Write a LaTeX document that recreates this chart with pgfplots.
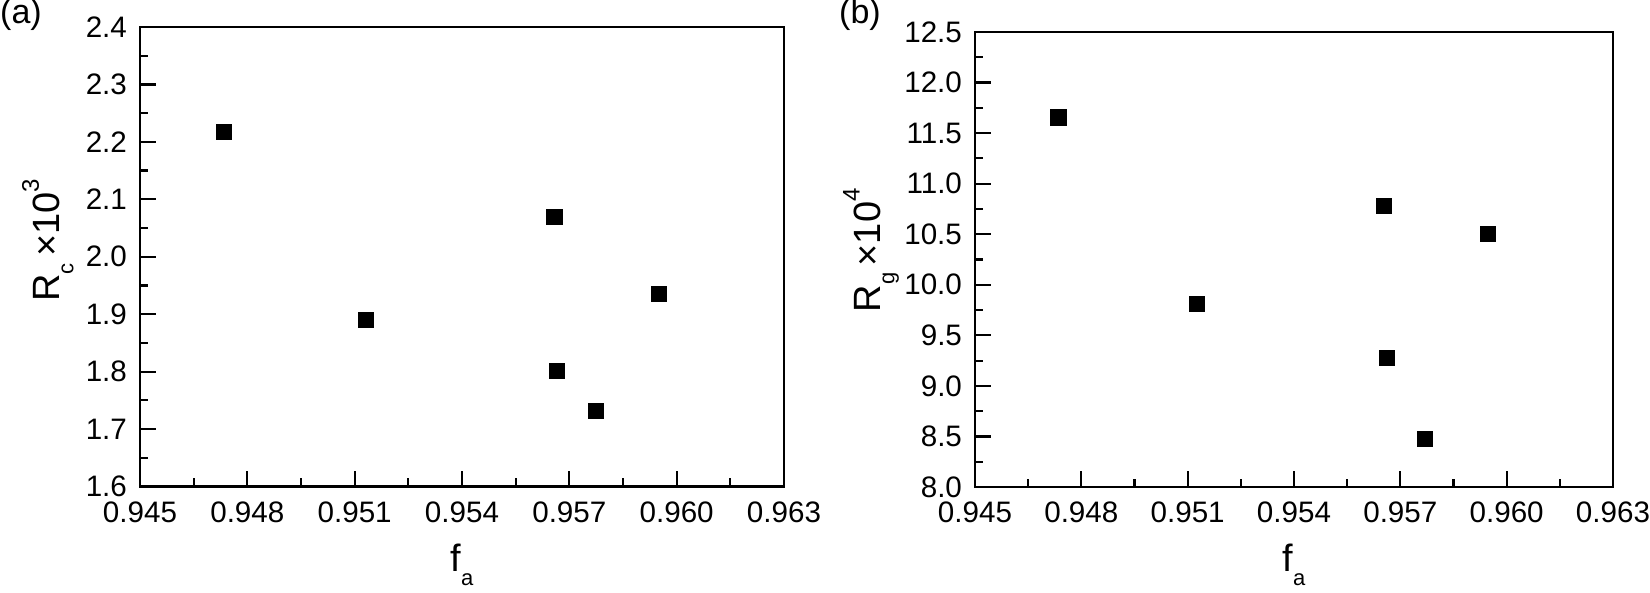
\documentclass[border=0pt]{standalone}
\usepackage{fontspec}
\setmainfont{Liberation Sans}
\usepackage{pgfplots}
\pgfplotsset{compat=1.18}

% subscript / superscript helpers for the axis labels
\newcommand\sub[1]{\raisebox{-0.36em}{\fontsize{11}{11}\selectfont #1}}
\newcommand\sups[1]{\raisebox{0.55em}{\fontsize{12}{12}\selectfont #1}}

\pgfplotsset{
  panel/.style={
    scale only axis,
    axis line style={line width=1.1pt},
    every tick/.style={line width=1.1pt, black},
    tick pos=left, tick align=inside,
    major tick length=7.8pt, minor tick length=4pt,
    minor x tick num=1, minor y tick num=1,
    scaled ticks=false,
    /pgf/number format/assume math mode=true,
    tick label style={font=\fontsize{14.8}{17}\selectfont},
    label style={font=\fontsize{19}{22}\selectfont},
    xmin=0.945, xmax=0.963,
    xtick={0.945,0.948,0.951,0.954,0.957,0.960,0.963},
    xticklabel style={yshift=-4pt, /pgf/number format/.cd, fixed, fixed zerofill, precision=3},
    yticklabel style={xshift=-3pt, /pgf/number format/.cd, fixed, fixed zerofill, precision=1},
    xlabel={f\sub{a}},
    xlabel style={at={(axis description cs:0.5,-0.186)}, anchor=base},
  },
  pts/.style={only marks, mark=square*, mark size=3.8pt,
    mark options={fill=black, draw=none}},
}

\begin{document}
\begin{tikzpicture}
\useasboundingbox (0,0) rectangle (825pt,296.5pt);

\begin{axis}[panel,
  at={(70pt,53.25pt)}, anchor=south west,
  width=322pt, height=229.75pt,
  ymin=1.6, ymax=2.4,
  ytick={1.6,1.7,1.8,1.9,2.0,2.1,2.2,2.3,2.4},
  ylabel={R\sub{c}\,×10\sups{3}},
  ylabel style={at={(axis description cs:-0.143,0.536)}, anchor=center},
]
\addplot[pts] coordinates {
(0.94735, 2.217)
(0.95132, 1.890)
(0.95658, 2.069)
(0.95666, 1.801)
(0.95774, 1.731)
(0.95951, 1.936)
};
\end{axis}

\begin{axis}[panel,
  at={(487.5pt,53pt)}, anchor=south west,
  width=319pt, height=227.5pt,
  ymin=8.0, ymax=12.5,
  ytick={8.0,8.5,9.0,9.5,10.0,10.5,11.0,11.5,12.0,12.5},
  ylabel={R\sub{g}\,×10\sups{4}},
  ylabel style={at={(axis description cs:-0.163,0.52)}, anchor=center},
]
\addplot[pts] coordinates {
(0.94735, 11.656)
(0.95126, 9.807)
(0.95653, 10.780)
(0.95662, 9.279)
(0.95770, 8.475)
(0.95946, 10.505)
};
\end{axis}

\node[font=\fontsize{17}{19}\selectfont] at (10.5pt,289pt) {(a)};
\node[font=\fontsize{17}{19}\selectfont] at (430pt,289pt) {(b)};
\end{tikzpicture}
\end{document}
